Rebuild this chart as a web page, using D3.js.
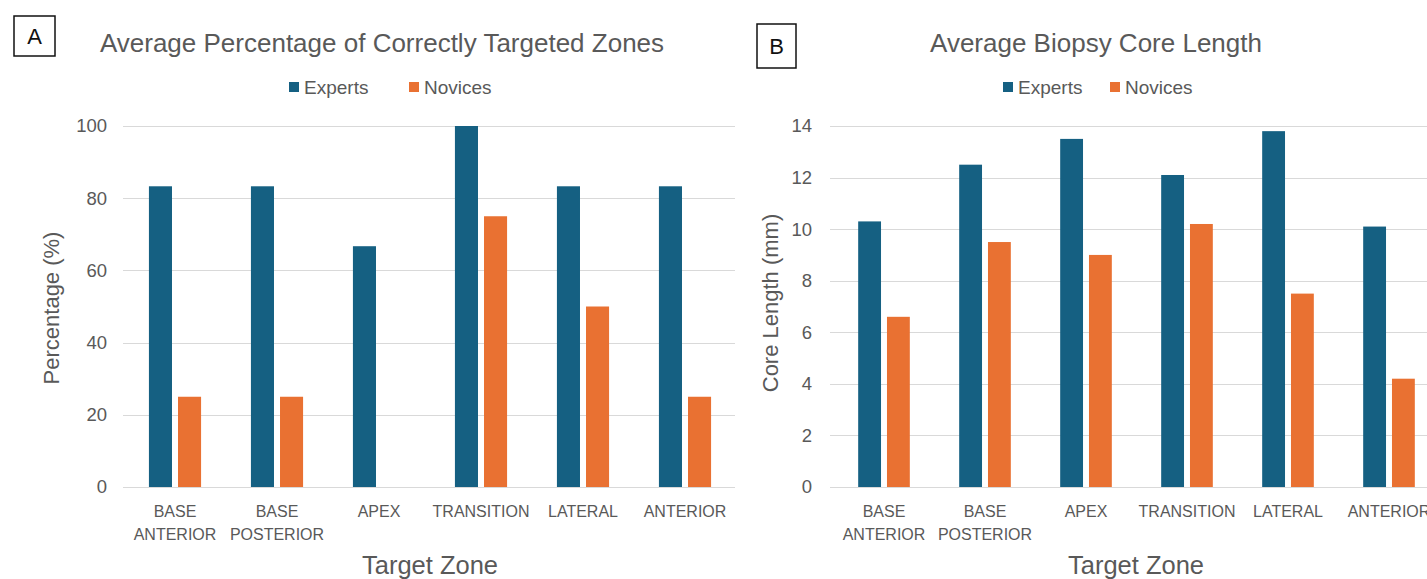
<!DOCTYPE html>
<html>
<head>
<meta charset="utf-8">
<script src="https://cdn.jsdelivr.net/npm/d3@7"></script>
<style>
  html, body { margin: 0; padding: 0; background: #ffffff; overflow: hidden; }
  svg { display: block; }
  text { font-family: "Liberation Sans", Arial, sans-serif; fill: #595959; }
</style>
</head>
<body>
<svg id="chart" width="1427" height="579"></svg>
<script>
// ---------------- DATA ----------------
const categories = ["BASE ANTERIOR", "BASE POSTERIOR", "APEX", "TRANSITION", "LATERAL", "ANTERIOR"];
const seriesNames = ["Experts", "Novices"];

const pctExperts = [83.3, 83.3, 66.7, 100, 83.3, 83.3];
const pctNovices = [25, 25, 0, 75, 50, 25];
const pctTicks = [0, 20, 40, 60, 80, 100];

const coreExperts = [10.3, 12.5, 13.5, 12.1, 13.8, 10.1];
const coreNovices = [6.6, 9.5, 9.0, 10.2, 7.5, 4.2];
const coreTicks = [0, 2, 4, 6, 8, 10, 12, 14];

const panelLabels = ["A", "B"];
const titles = ["Average Percentage of Correctly Targeted Zones", "Average Biopsy Core Length"];
const yTitles = ["Percentage (%)", "Core Length (mm)"];
const xTitle = "Target Zone";

// ---------------- STYLE / LAYOUT ----------------
const colors = { Experts: "#156082", Novices: "#E97132" };
const svg = d3.select("#chart");

function drawPanel(cfg) {
  const g = svg.append("g");
  const y = d3.scaleLinear().domain([0, cfg.yMax]).range([cfg.bottom, cfg.top]);
  const x0 = d3.scaleBand().domain(categories).range([cfg.left, cfg.right]).padding(0);
  const x1 = d3.scaleBand().domain(seriesNames).range([0, x0.bandwidth()])
               .paddingInner(0.207).paddingOuter(0.857);

  // gridlines
  g.append("g").selectAll("line").data(cfg.ticks).join("line")
    .attr("x1", cfg.gridLeft).attr("x2", cfg.gridRight)
    .attr("y1", d => Math.round(y(d)) + 0.5).attr("y2", d => Math.round(y(d)) + 0.5)
    .attr("stroke", "#d9d9d9").attr("stroke-width", 1);

  // y axis labels via d3 axis
  const yAxis = d3.axisLeft(y).tickValues(cfg.ticks).tickSize(0).tickPadding(0);
  const ya = g.append("g").attr("transform", `translate(${cfg.tickX},0)`).call(yAxis);
  ya.select(".domain").remove();
  ya.selectAll("text").attr("font-size", 18.5).attr("fill", "#595959")
    .style("font-family", '"Liberation Sans", Arial, sans-serif');

  // bars
  const rows = categories.map((c, i) => ({ cat: c, vals: [
    { s: "Experts", v: cfg.experts[i] }, { s: "Novices", v: cfg.novices[i] } ] }));
  const grp = g.append("g").selectAll("g").data(rows).join("g")
    .attr("transform", d => `translate(${x0(d.cat)},0)`);
  grp.selectAll("rect").data(d => d.vals.filter(v => v.v > 0)).join("rect")
    .attr("x", d => x1(d.s)).attr("width", x1.bandwidth())
    .attr("y", d => y(d.v)).attr("height", d => y(0) - y(d.v))
    .attr("fill", d => colors[d.s]);

  // category labels
  const cl = g.append("g").selectAll("text").data(categories).join("text")
    .attr("x", d => x0(d) + x0.bandwidth() / 2)
    .attr("text-anchor", "middle").attr("font-size", 16).attr("fill", "#595959");
  cl.each(function(d) {
    const words = d.split(" ");
    const t = d3.select(this);
    words.forEach((w, i) => {
      t.append("tspan").attr("x", x0(d) + x0.bandwidth() / 2)
        .attr("y", 517 + i * 23).text(w);
    });
  });

  // x title
  g.append("text").attr("x", cfg.xTitleX).attr("y", 574).attr("text-anchor", "middle")
    .attr("font-size", 25.5).text(xTitle);

  // y title
  g.append("text").attr("transform", `translate(${cfg.yTitleX},${cfg.yTitleY}) rotate(-90)`)
    .attr("text-anchor", "middle").attr("font-size", 22).text(cfg.yTitle);

  // title
  g.append("text").attr("x", cfg.titleX).attr("y", 52).attr("text-anchor", "middle")
    .attr("font-size", 26).text(cfg.title);

  // legend
  const lg = g.append("g");
  seriesNames.forEach((s, i) => {
    lg.append("rect").attr("x", cfg.legendX[i]).attr("y", 82).attr("width", 10).attr("height", 10)
      .attr("fill", colors[s]);
    lg.append("text").attr("x", cfg.legendX[i] + 15).attr("y", 94).attr("font-size", 19).text(s);
  });

  // panel label box
  g.append("rect").attr("x", cfg.box[0]).attr("y", cfg.box[1]).attr("width", cfg.box[2]).attr("height", cfg.box[3])
    .attr("fill", "none").attr("stroke", "#111").attr("stroke-width", 1.5);
  g.append("text").attr("x", cfg.box[0] + cfg.box[2] / 2).attr("y", cfg.box[1] + cfg.box[3] / 2 + 8)
    .attr("text-anchor", "middle").attr("font-size", 22).style("fill", "#111").text(cfg.label);
}

drawPanel({
  label: panelLabels[0], title: titles[0], yTitle: yTitles[0],
  experts: pctExperts, novices: pctNovices, ticks: pctTicks, yMax: 100,
  left: 124, right: 736, top: 126, bottom: 487, gridLeft: 123, gridRight: 735,
  tickX: 107, yTitleX: 59, yTitleY: 308, xTitleX: 430, titleX: 382,
  legendX: [289, 409], box: [14, 16, 41, 40]
});

drawPanel({
  label: panelLabels[1], title: titles[1], yTitle: yTitles[1],
  experts: coreExperts, novices: coreNovices, ticks: coreTicks, yMax: 14,
  left: 833.5, right: 1439.5, top: 126, bottom: 487, gridLeft: 830, gridRight: 1427,
  tickX: 812, yTitleX: 778, yTitleY: 303, xTitleX: 1136, titleX: 1096,
  legendX: [1003, 1110], box: [757, 24, 39, 44]
});
</script>
</body>
</html>
